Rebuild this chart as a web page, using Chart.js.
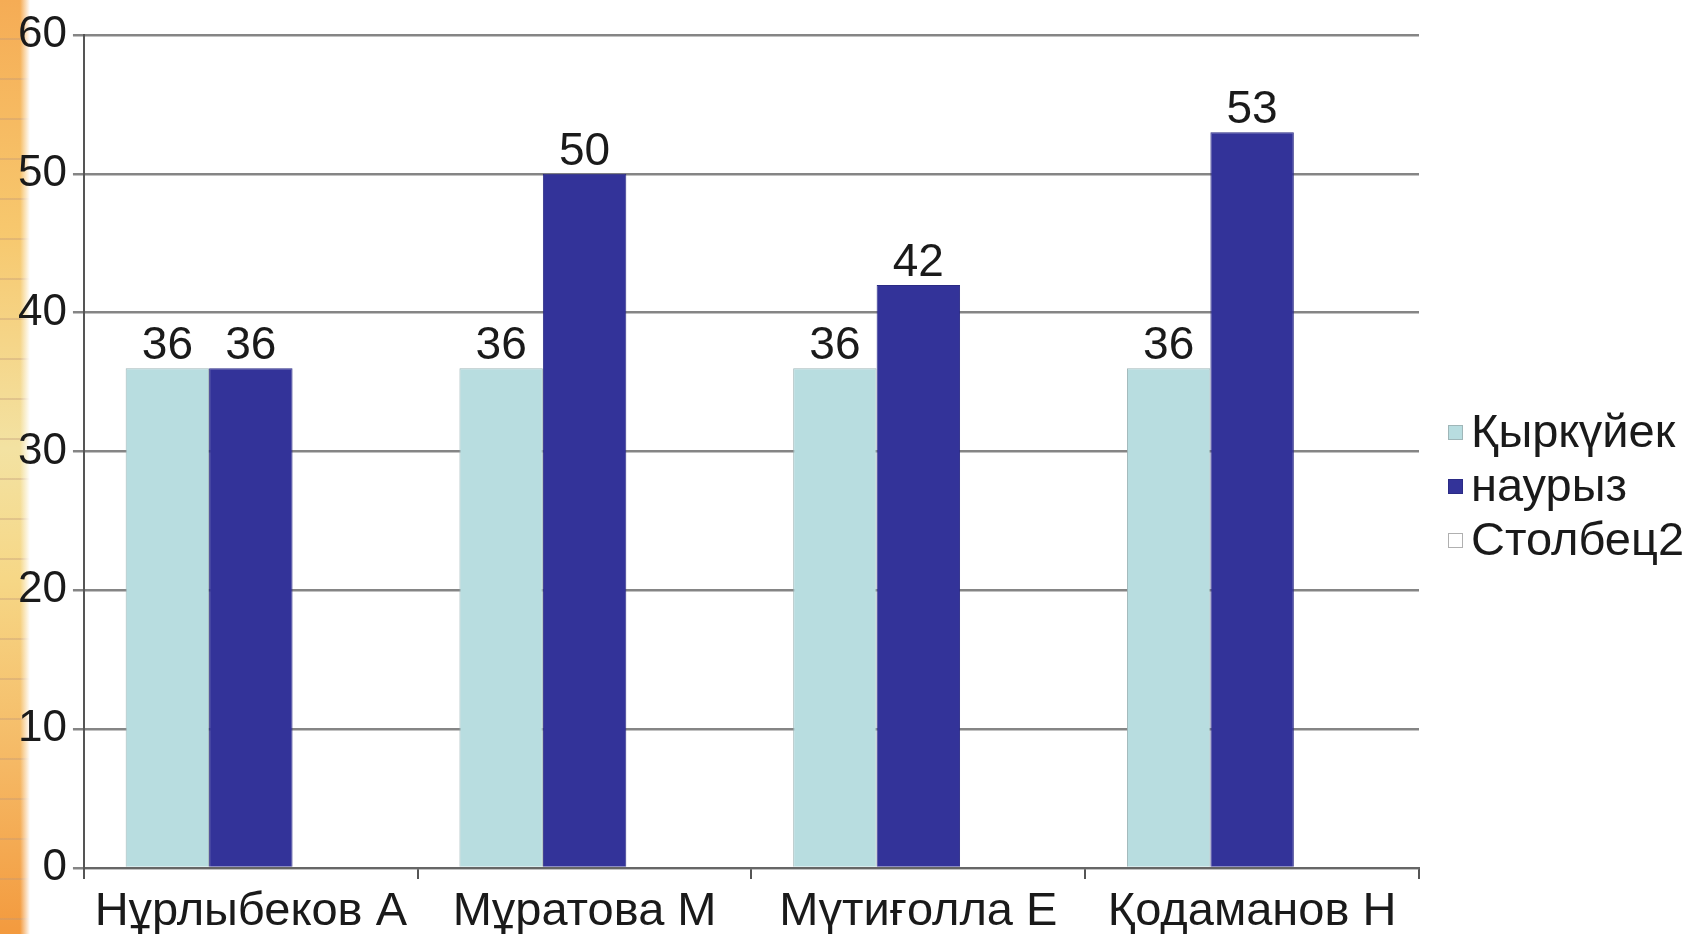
<!DOCTYPE html>
<html>
<head>
<meta charset="utf-8">
<script src="https://cdn.jsdelivr.net/npm/chart.js@4/dist/chart.umd.min.js"></script>
<style>
  html, body { margin: 0; padding: 0; background: #fff; }
  #wrap { position: relative; width: 1694px; height: 934px; overflow: hidden; }
  #strip {
    position: absolute; left: 0; top: 0; width: 30px; height: 934px;
    background:
      linear-gradient(to right, rgba(255,255,255,0) 0, rgba(255,255,255,0) 20px, rgba(255,255,255,1) 30px),
      repeating-linear-gradient(to bottom, rgba(190,150,120,0) 0, rgba(190,150,120,0) 38px, rgba(190,150,120,0.35) 38px, rgba(190,150,120,0.35) 40px),
      linear-gradient(to bottom, #f5ac55 0%, #f7c86e 25%, #f3e2a2 48%, #f6d786 62%, #f5b864 82%, #f39a3e 100%);
  }
  #chart { position: absolute; left: 0; top: 0; }
</style>
</head>
<body>
<div id="wrap">
  <div id="strip"></div>
  <canvas id="chart" width="1694" height="934"></canvas>
</div>
<script>
const categories = ["Нұрлыбеков А", "Мұратова М", "Мүтиғолла Е", "Қодаманов Н"];
const seriesNames = ["Қыркүйек", "наурыз", "Столбец2"];
const september = [36, 36, 36, 36];
const march = [36, 50, 42, 53];
const column2 = [null, null, null, null];
const yTicks = [0, 10, 20, 30, 40, 50, 60];

const FONT = "'Liberation Sans', Arial, sans-serif";
const colors = ["#b8dde0", "#333399", "#ffffff"];
const borders = ["#9fb6b8", "#2b2b85", "#b0b0b0"];

// Draws the numbers above each bar
const valueLabels = {
  id: "valueLabels",
  afterDatasetsDraw(chart) {
    const ctx = chart.ctx;
    ctx.save();
    ctx.font = "46px " + FONT;
    ctx.fillStyle = "#1a1a1a";
    ctx.textAlign = "center";
    ctx.textBaseline = "bottom";
    chart.data.datasets.forEach((ds, i) => {
      const meta = chart.getDatasetMeta(i);
      meta.data.forEach((bar, j) => {
        const v = ds.data[j];
        if (v === null || v === undefined) return;
        ctx.fillText(String(v), bar.x, bar.y + 1);
      });
    });
    ctx.restore();
  },
};

// Legend drawn like the original: small square, text right next to it
const sideLegend = {
  id: "sideLegend",
  afterDraw(chart) {
    const ctx = chart.ctx;
    const area = chart.chartArea;
    const x = area.right + 29;
    const rowH = 54;
    const startY = 432;
    ctx.save();
    ctx.font = "47px " + FONT;
    ctx.textBaseline = "middle";
    ctx.textAlign = "left";
    chart.data.datasets.forEach((ds, i) => {
      const y = startY + i * rowH;
      ctx.fillStyle = ds.backgroundColor;
      ctx.fillRect(x, y - 7, 15, 15);
      ctx.strokeStyle = ds.borderColor;
      ctx.lineWidth = 1;
      ctx.strokeRect(x + 0.5, y - 6.5, 14, 14);
      ctx.fillStyle = "#1a1a1a";
      ctx.fillText(ds.label, x + 23, y + 2);
    });
    ctx.restore();
  },
};

const datasets = [september, march, column2].map((data, i) => ({
  label: seriesNames[i],
  data: data,
  backgroundColor: colors[i],
  borderColor: borders[i],
  borderWidth: 1,
  categoryPercentage: 0.75,
  barPercentage: 1.0,
}));

new Chart(document.getElementById("chart").getContext("2d"), {
  type: "bar",
  data: { labels: categories, datasets: datasets },
  options: {
    responsive: false,
    animation: false,
    layout: { padding: { left: 12, right: 275, top: 35, bottom: -12 } },
    plugins: {
      legend: { display: false },
      tooltip: { enabled: false },
    },
    scales: {
      x: {
        offset: true,
        grid: {
          display: true,
          offset: true,
          drawOnChartArea: false,
          drawTicks: true,
          tickLength: 11,
          color: "#555",
          lineWidth: 2,
        },
        border: { display: true, color: "#666", width: 2 },
        ticks: {
          font: { family: FONT, size: 47, lineHeight: 1.0 },
          color: "#1a1a1a",
          padding: 10,
          maxRotation: 0,
        },
      },
      y: {
        min: 0,
        max: 60,
        afterBuildTicks: (axis) => {
          axis.ticks = yTicks.map((v) => ({ value: v }));
        },
        grid: {
          color: "#858585",
          lineWidth: 2.5,
          tickLength: 11,
        },
        border: { display: true, color: "#555", width: 2 },
        ticks: {
          font: { family: FONT, size: 44 },
          color: "#1a1a1a",
          padding: 6,
        },
      },
    },
  },
  plugins: [valueLabels, sideLegend],
});
</script>
</body>
</html>
